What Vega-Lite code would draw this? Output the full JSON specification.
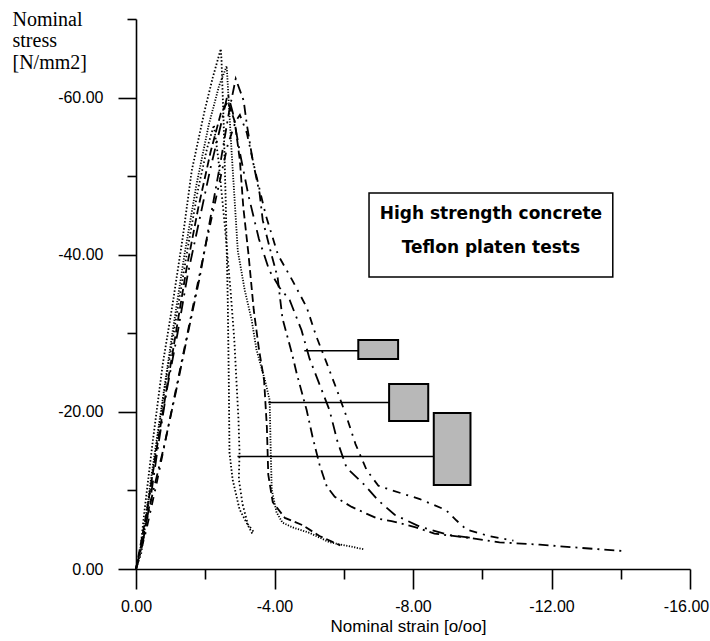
{
  "$schema": "https://vega.github.io/schema/vega-lite/v6.json",
  "width": 554,
  "height": 550,
  "autosize": {"type": "none"},
  "padding": {"left": 136, "top": 19, "right": 20, "bottom": 72},
  "background": "white",
  "config": {
    "view": {"stroke": null},
    "axis": {
      "domainColor": "black", "domainWidth": 1.6, "tickColor": "black", "tickWidth": 1.6,
      "labelColor": "black", "titleColor": "black", "grid": false,
      "labelFont": "Liberation Sans", "labelFontSize": 16
    }
  },
  "datasets": {
    "curves": [
      {"curve":"T1","order":0,"strain":0,"stress":0},
      {"curve":"T1","order":1,"strain":-0.11,"stress":-1.8},
      {"curve":"T1","order":2,"strain":-0.25,"stress":-7.6},
      {"curve":"T1","order":3,"strain":-0.48,"stress":-16.1},
      {"curve":"T1","order":4,"strain":-0.77,"stress":-26.0},
      {"curve":"T1","order":5,"strain":-1.06,"stress":-33.8},
      {"curve":"T1","order":6,"strain":-1.35,"stress":-42.2},
      {"curve":"T1","order":7,"strain":-1.61,"stress":-50.7},
      {"curve":"T1","order":8,"strain":-1.98,"stress":-58.3},
      {"curve":"T1","order":9,"strain":-2.22,"stress":-62.6},
      {"curve":"T1","order":10,"strain":-2.45,"stress":-66.2},
      {"curve":"T1","order":11,"strain":-2.47,"stress":-64.7},
      {"curve":"T1","order":12,"strain":-2.53,"stress":-57.0},
      {"curve":"T1","order":13,"strain":-2.59,"stress":-46.9},
      {"curve":"T1","order":14,"strain":-2.65,"stress":-34.2},
      {"curve":"T1","order":15,"strain":-2.68,"stress":-24.0},
      {"curve":"T1","order":16,"strain":-2.70,"stress":-14.8},
      {"curve":"T1","order":17,"strain":-2.79,"stress":-11.4},
      {"curve":"T1","order":18,"strain":-2.99,"stress":-7.6},
      {"curve":"T1","order":19,"strain":-3.37,"stress":-4.4},

      {"curve":"T2","order":0,"strain":0,"stress":0},
      {"curve":"T2","order":1,"strain":-0.15,"stress":-2.0},
      {"curve":"T2","order":2,"strain":-0.35,"stress":-8.0},
      {"curve":"T2","order":3,"strain":-0.6,"stress":-16.0},
      {"curve":"T2","order":4,"strain":-0.9,"stress":-25.0},
      {"curve":"T2","order":5,"strain":-1.2,"stress":-33.0},
      {"curve":"T2","order":6,"strain":-1.5,"stress":-41.0},
      {"curve":"T2","order":7,"strain":-1.8,"stress":-48.5},
      {"curve":"T2","order":8,"strain":-2.05,"stress":-53.5},
      {"curve":"T2","order":9,"strain":-2.25,"stress":-56.5},
      {"curve":"T2","order":10,"strain":-2.38,"stress":-52.1},
      {"curve":"T2","order":11,"strain":-2.55,"stress":-44.4},
      {"curve":"T2","order":12,"strain":-2.73,"stress":-35.5},
      {"curve":"T2","order":13,"strain":-2.84,"stress":-29.1},
      {"curve":"T2","order":14,"strain":-2.90,"stress":-24.0},
      {"curve":"T2","order":15,"strain":-2.96,"stress":-19.0},
      {"curve":"T2","order":16,"strain":-2.99,"stress":-14.8},
      {"curve":"T2","order":17,"strain":-2.97,"stress":-11.4},
      {"curve":"T2","order":18,"strain":-3.08,"stress":-8.2},
      {"curve":"T2","order":19,"strain":-3.23,"stress":-5.7},
      {"curve":"T2","order":20,"strain":-3.42,"stress":-4.6},

      {"curve":"M1","order":0,"strain":0,"stress":0},
      {"curve":"M1","order":1,"strain":-0.2,"stress":-4.0},
      {"curve":"M1","order":2,"strain":-0.45,"stress":-12.0},
      {"curve":"M1","order":3,"strain":-0.75,"stress":-21.0},
      {"curve":"M1","order":4,"strain":-1.05,"stress":-30.0},
      {"curve":"M1","order":5,"strain":-1.4,"stress":-40.0},
      {"curve":"M1","order":6,"strain":-1.75,"stress":-49.0},
      {"curve":"M1","order":7,"strain":-2.1,"stress":-56.5},
      {"curve":"M1","order":8,"strain":-2.4,"stress":-61.5},
      {"curve":"M1","order":9,"strain":-2.62,"stress":-64.0},
      {"curve":"M1","order":10,"strain":-2.76,"stress":-53.2},
      {"curve":"M1","order":11,"strain":-2.94,"stress":-40.5},
      {"curve":"M1","order":12,"strain":-3.14,"stress":-35.5},
      {"curve":"M1","order":13,"strain":-3.34,"stress":-31.7},
      {"curve":"M1","order":14,"strain":-3.48,"stress":-27.9},
      {"curve":"M1","order":15,"strain":-3.72,"stress":-24.1},
      {"curve":"M1","order":16,"strain":-3.86,"stress":-21.5},
      {"curve":"M1","order":17,"strain":-3.89,"stress":-15.2},
      {"curve":"M1","order":18,"strain":-3.92,"stress":-10.1},
      {"curve":"M1","order":19,"strain":-4.06,"stress":-7.2},
      {"curve":"M1","order":20,"strain":-4.23,"stress":-5.9},
      {"curve":"M1","order":21,"strain":-4.52,"stress":-5.3},
      {"curve":"M1","order":22,"strain":-5.01,"stress":-4.6},
      {"curve":"M1","order":23,"strain":-5.59,"stress":-3.4},
      {"curve":"M1","order":24,"strain":-6.60,"stress":-2.5},

      {"curve":"M2","order":0,"strain":0,"stress":0},
      {"curve":"M2","order":1,"strain":-0.3,"stress":-7.0},
      {"curve":"M2","order":2,"strain":-0.55,"stress":-14.0},
      {"curve":"M2","order":3,"strain":-0.85,"stress":-22.0},
      {"curve":"M2","order":4,"strain":-1.15,"stress":-30.0},
      {"curve":"M2","order":5,"strain":-1.45,"stress":-38.0},
      {"curve":"M2","order":6,"strain":-1.8,"stress":-46.0},
      {"curve":"M2","order":7,"strain":-2.15,"stress":-53.0},
      {"curve":"M2","order":8,"strain":-2.45,"stress":-58.0},
      {"curve":"M2","order":9,"strain":-2.65,"stress":-59.5},
      {"curve":"M2","order":10,"strain":-2.85,"stress":-57.0},
      {"curve":"M2","order":11,"strain":-3.0,"stress":-52.0},
      {"curve":"M2","order":12,"strain":-3.1,"stress":-46.0},
      {"curve":"M2","order":13,"strain":-3.25,"stress":-40.0},
      {"curve":"M2","order":14,"strain":-3.4,"stress":-33.0},
      {"curve":"M2","order":15,"strain":-3.55,"stress":-28.0},
      {"curve":"M2","order":16,"strain":-3.7,"stress":-24.0},
      {"curve":"M2","order":17,"strain":-3.78,"stress":-18.0},
      {"curve":"M2","order":18,"strain":-3.82,"stress":-12.0},
      {"curve":"M2","order":19,"strain":-3.95,"stress":-8.5},
      {"curve":"M2","order":20,"strain":-4.3,"stress":-6.5},
      {"curve":"M2","order":21,"strain":-4.8,"stress":-5.6},
      {"curve":"M2","order":22,"strain":-5.3,"stress":-4.2},
      {"curve":"M2","order":23,"strain":-5.9,"stress":-3.0},

      {"curve":"S1","order":0,"strain":0,"stress":0},
      {"curve":"S1","order":1,"strain":-0.25,"stress":-5.0},
      {"curve":"S1","order":2,"strain":-0.5,"stress":-10.0},
      {"curve":"S1","order":3,"strain":-0.8,"stress":-15.4},
      {"curve":"S1","order":4,"strain":-1.15,"stress":-22.5},
      {"curve":"S1","order":5,"strain":-1.5,"stress":-30.0},
      {"curve":"S1","order":6,"strain":-1.84,"stress":-37.1},
      {"curve":"S1","order":7,"strain":-2.13,"stress":-44.2},
      {"curve":"S1","order":8,"strain":-2.45,"stress":-52.0},
      {"curve":"S1","order":9,"strain":-2.7,"stress":-58.5},
      {"curve":"S1","order":10,"strain":-2.88,"stress":-62.4},
      {"curve":"S1","order":11,"strain":-3.11,"stress":-59.6},
      {"curve":"S1","order":12,"strain":-3.2,"stress":-56.6},
      {"curve":"S1","order":13,"strain":-3.37,"stress":-52.0},
      {"curve":"S1","order":14,"strain":-3.57,"stress":-47.8},
      {"curve":"S1","order":15,"strain":-3.66,"stress":-44.4},
      {"curve":"S1","order":16,"strain":-3.86,"stress":-40.9},
      {"curve":"S1","order":17,"strain":-4.09,"stress":-37.1},
      {"curve":"S1","order":18,"strain":-4.23,"stress":-31.9},
      {"curve":"S1","order":19,"strain":-4.5,"stress":-27.5},
      {"curve":"S1","order":20,"strain":-4.64,"stress":-24.9},
      {"curve":"S1","order":21,"strain":-4.93,"stress":-20.2},
      {"curve":"S1","order":22,"strain":-5.1,"stress":-16.8},
      {"curve":"S1","order":23,"strain":-5.3,"stress":-13.3},
      {"curve":"S1","order":24,"strain":-5.51,"stress":-10.5},
      {"curve":"S1","order":25,"strain":-5.74,"stress":-9.2},
      {"curve":"S1","order":26,"strain":-6.23,"stress":-7.9},
      {"curve":"S1","order":27,"strain":-6.98,"stress":-6.4},
      {"curve":"S1","order":28,"strain":-7.38,"stress":-6.1},
      {"curve":"S1","order":29,"strain":-8.08,"stress":-5.3},
      {"curve":"S1","order":30,"strain":-8.62,"stress":-4.5},
      {"curve":"S1","order":31,"strain":-9.55,"stress":-4.0},
      {"curve":"S1","order":32,"strain":-10.5,"stress":-3.4},
      {"curve":"S1","order":33,"strain":-11.66,"stress":-3.1},
      {"curve":"S1","order":34,"strain":-12.81,"stress":-2.7},
      {"curve":"S1","order":35,"strain":-14.02,"stress":-2.3},

      {"curve":"S2","order":0,"strain":0,"stress":0},
      {"curve":"S2","order":1,"strain":-0.2,"stress":-3.5},
      {"curve":"S2","order":2,"strain":-0.4,"stress":-8.4},
      {"curve":"S2","order":3,"strain":-0.6,"stress":-14.5},
      {"curve":"S2","order":4,"strain":-0.89,"stress":-22.8},
      {"curve":"S2","order":5,"strain":-1.2,"stress":-30.0},
      {"curve":"S2","order":6,"strain":-1.49,"stress":-37.4},
      {"curve":"S2","order":7,"strain":-1.84,"stress":-44.6},
      {"curve":"S2","order":8,"strain":-2.15,"stress":-51.0},
      {"curve":"S2","order":9,"strain":-2.45,"stress":-56.5},
      {"curve":"S2","order":10,"strain":-2.65,"stress":-60.5},
      {"curve":"S2","order":11,"strain":-2.8,"stress":-58.0},
      {"curve":"S2","order":12,"strain":-3.0,"stress":-53.0},
      {"curve":"S2","order":13,"strain":-3.25,"stress":-47.5},
      {"curve":"S2","order":14,"strain":-3.55,"stress":-42.0},
      {"curve":"S2","order":15,"strain":-3.85,"stress":-38.0},
      {"curve":"S2","order":16,"strain":-4.15,"stress":-35.8},
      {"curve":"S2","order":17,"strain":-4.44,"stress":-34.2},
      {"curve":"S2","order":18,"strain":-4.78,"stress":-30.4},
      {"curve":"S2","order":19,"strain":-5.01,"stress":-26.8},
      {"curve":"S2","order":20,"strain":-5.3,"stress":-23.5},
      {"curve":"S2","order":21,"strain":-5.59,"stress":-20.2},
      {"curve":"S2","order":22,"strain":-5.82,"stress":-16.2},
      {"curve":"S2","order":23,"strain":-6.08,"stress":-12.9},
      {"curve":"S2","order":24,"strain":-6.6,"stress":-10.7},
      {"curve":"S2","order":25,"strain":-6.98,"stress":-8.8},
      {"curve":"S2","order":26,"strain":-7.47,"stress":-6.9},
      {"curve":"S2","order":27,"strain":-8.19,"stress":-5.4},
      {"curve":"S2","order":28,"strain":-9.06,"stress":-4.3},
      {"curve":"S2","order":29,"strain":-9.8,"stress":-3.9},

      {"curve":"S3","order":0,"strain":0,"stress":0},
      {"curve":"S3","order":1,"strain":-0.3,"stress":-5.0},
      {"curve":"S3","order":2,"strain":-0.6,"stress":-11.0},
      {"curve":"S3","order":3,"strain":-0.95,"stress":-18.5},
      {"curve":"S3","order":4,"strain":-1.3,"stress":-26.0},
      {"curve":"S3","order":5,"strain":-1.65,"stress":-33.5},
      {"curve":"S3","order":6,"strain":-2.0,"stress":-41.0},
      {"curve":"S3","order":7,"strain":-2.35,"stress":-48.0},
      {"curve":"S3","order":8,"strain":-2.65,"stress":-54.0},
      {"curve":"S3","order":9,"strain":-2.88,"stress":-57.0},
      {"curve":"S3","order":10,"strain":-3.0,"stress":-57.8},
      {"curve":"S3","order":11,"strain":-3.2,"stress":-55.5},
      {"curve":"S3","order":12,"strain":-3.45,"stress":-50.5},
      {"curve":"S3","order":13,"strain":-3.75,"stress":-45.0},
      {"curve":"S3","order":14,"strain":-4.1,"stress":-40.0},
      {"curve":"S3","order":15,"strain":-4.52,"stress":-36.7},
      {"curve":"S3","order":16,"strain":-4.93,"stress":-33.3},
      {"curve":"S3","order":17,"strain":-5.2,"stress":-29.7},
      {"curve":"S3","order":18,"strain":-5.5,"stress":-26.3},
      {"curve":"S3","order":19,"strain":-5.8,"stress":-22.8},
      {"curve":"S3","order":20,"strain":-6.08,"stress":-19.4},
      {"curve":"S3","order":21,"strain":-6.34,"stress":-15.9},
      {"curve":"S3","order":22,"strain":-6.66,"stress":-12.6},
      {"curve":"S3","order":23,"strain":-7.0,"stress":-10.6},
      {"curve":"S3","order":24,"strain":-7.4,"stress":-10.0},
      {"curve":"S3","order":25,"strain":-8.2,"stress":-8.9},
      {"curve":"S3","order":26,"strain":-8.95,"stress":-7.5},
      {"curve":"S3","order":27,"strain":-9.25,"stress":-6.2},
      {"curve":"S3","order":28,"strain":-9.55,"stress":-5.0},
      {"curve":"S3","order":29,"strain":-10.2,"stress":-4.2},
      {"curve":"S3","order":30,"strain":-10.9,"stress":-3.6}
    ],
    "leaders": [
      {"strain": -4.86, "strain2": -6.42, "stress": -27.78},
      {"strain": -3.82, "strain2": -7.31, "stress": -21.19},
      {"strain": -2.93, "strain2": -8.6, "stress": -14.32}
    ],
    "specimens": [
      {"strain": -6.42, "strain2": -7.57, "stress": -29.15, "stress2": -26.73},
      {"strain": -7.31, "strain2": -8.44, "stress": -23.55, "stress2": -18.84},
      {"strain": -8.6, "strain2": -9.66, "stress": -19.85, "stress2": -10.69}
    ],
    "textbox": [
      {"strain": -6.73, "strain2": -13.77, "stress": -47.86, "stress2": -37.16}
    ],
    "notes": [
      {"strain": -10.25, "stress": -44.5, "text": "High strength concrete"},
      {"strain": -10.25, "stress": -40.2, "text": "Teflon platen tests"}
    ]
  },
  "encoding": {
    "x": {
      "field": "strain", "type": "quantitative",
      "scale": {"domain": [0, -16], "nice": false, "zero": false},
      "axis": {
        "values": [0, -2, -4, -6, -8, -10, -12, -14, -16],
        "tickSize": {"condition": {"test": "datum.value % 4 === 0", "value": 20}, "value": 10},
        "labelExpr": "datum.value % 4 === 0 ? (datum.value === 0 ? '0.00' : '-' + format(abs(datum.value), '.2f')) : ''",
        "labelOffset": {"condition": {"test": "datum.value === -16", "value": -4}, "value": 0},
        "labelPadding": 9,
        "labelFlush": false,
        "labelOverlap": false,
        "title": "Nominal strain [o/oo]",
        "titleFont": "Liberation Sans", "titleFontSize": 17, "titleFontWeight": "normal",
        "titleBaseline": "alphabetic", "titleY": 62, "titleX": 272, "titleAlign": "center"
      }
    },
    "y": {
      "field": "stress", "type": "quantitative",
      "scale": {"domain": [0, -70], "nice": false, "zero": false},
      "axis": {
        "values": [0, -10, -20, -30, -40, -50, -60, -70],
        "tickSize": {"condition": {"test": "datum.value % 20 === 0", "value": 18}, "value": 9},
        "labelExpr": "datum.value % 20 === 0 ? (datum.value === 0 ? '0.00' : '-' + format(abs(datum.value), '.2f')) : ''",
        "labelPadding": 15,
        "labelFlush": false,
        "labelOverlap": false,
        "title": ["Nominal", "stress", "[N/mm2]"],
        "titleFont": "Liberation Serif", "titleFontSize": 20, "titleFontWeight": "normal",
        "titleAngle": 0, "titleAlign": "left", "titleBaseline": "alphabetic",
        "titleX": -124, "titleY": 6, "titleLineHeight": 21.5
      }
    }
  },
  "layer": [
    {
      "data": {"name": "curves"},
      "mark": {"type": "line", "color": "black", "strokeWidth": 1.8, "strokeCap": "butt"},
      "encoding": {
        "order": {"field": "order", "type": "quantitative"},
        "detail": {"field": "curve", "type": "nominal"},
        "strokeDash": {
          "field": "curve", "type": "nominal", "legend": null,
          "scale": {
            "domain": ["T1", "T2", "M1", "M2", "S1", "S2", "S3"],
            "range": [[1.5, 2], [1.5, 2.5], [1.2, 1.5], [8, 4], [10, 5, 2, 5], [12, 6, 2, 6], [8, 6, 2, 6]]
          }
        }
      }
    },
    {
      "data": {"name": "leaders"},
      "mark": {"type": "rule", "color": "black", "strokeWidth": 1.5},
      "encoding": {"x2": {"field": "strain2"}}
    },
    {
      "data": {"name": "specimens"},
      "mark": {"type": "rect", "fill": "#b8b8b8", "stroke": "black", "strokeWidth": 2},
      "encoding": {"x2": {"field": "strain2"}, "y2": {"field": "stress2"}}
    },
    {
      "data": {"name": "textbox"},
      "mark": {"type": "rect", "fill": "white", "stroke": "black", "strokeWidth": 1.5},
      "encoding": {"x2": {"field": "strain2"}, "y2": {"field": "stress2"}}
    },
    {
      "data": {"name": "notes"},
      "mark": {"type": "text", "font": "DejaVu Sans", "fontWeight": "bold", "fontSize": 17, "align": "center", "baseline": "alphabetic", "color": "black"},
      "encoding": {"text": {"field": "text", "type": "nominal"}}
    }
  ]
}
